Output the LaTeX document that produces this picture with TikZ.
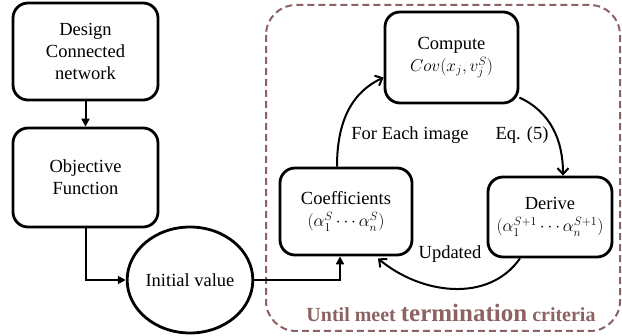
\documentclass[tikz,border=0pt]{standalone}
\usepackage{fontspec}
\setmainfont{Liberation Serif}
\newfontfamily\tms{Liberation Serif}
\usetikzlibrary{arrows.meta,shapes.geometric}
\definecolor{brn}{RGB}{140,98,98}
\begin{document}
\begin{tikzpicture}[x=1pt,y=-1pt,
  box/.style={draw,line width=2.8pt,rounded corners=15pt,align=center,font=\tms\fontsize{18.5}{22}\selectfont},
  lbl/.style={font=\tms\fontsize{18.5}{22}\selectfont},
  sarr/.style={line width=2pt,-{Triangle[length=8pt,width=8pt]}},
  carr/.style={line width=2pt,-{Straight Barb[length=6pt,width=11pt,line width=2pt]}}]
\useasboundingbox (0,0) rectangle (622,336);
\draw[brn,line width=2pt,dash pattern=on 7pt off 4pt,rounded corners=30pt] (266,5) rectangle (620,331);
\node[box,minimum width=145pt,minimum height=97pt] (b1) at (85.5,51.5) {Design\\Connected\\network};
\node[box,minimum width=145pt,minimum height=99pt] (b2) at (85.5,177.5) {Objective\\Function};
\node[draw,ellipse,line width=2.8pt,minimum width=124pt,minimum height=106pt,inner sep=0pt,lbl] (iv) at (190,280) {Initial value};
\node[box,minimum width=133pt,minimum height=91pt] (comp) at (451.5,57.5) {Compute\\$Cov(x_j,v_j^S)$};
\node[box,minimum width=132pt,minimum height=87pt] (coef) at (346,211.5) {Coefficients\\$(\alpha_1^S\cdots\alpha_n^S)$};
\node[box,minimum width=124pt,minimum height=80pt,inner sep=2pt] (der) at (550,217) {Derive\\$(\alpha_1^{S+1}\cdots\alpha_n^{S+1})$};
\draw[sarr] (b1) -- (b2);
\draw[sarr] (b2.south) |- (iv.west);
\draw[sarr] (iv.east) -| ([xshift=-6pt]coef.south);
\draw[carr] ([xshift=-9pt]coef.north) to[out=90,in=205] ([yshift=-20pt]comp.west);
\draw[carr] ([yshift=-40pt]comp.east) to[out=-25,in=90] ([xshift=13pt]der.north);
\draw[carr] ([xshift=-30pt]der.south) to[out=-125,in=-40] ([xshift=32pt,yshift=-2pt]coef.south);
\node[lbl] (fe) at (410,135) {For Each image};
\node[lbl] (eq) at (522,135) {Eq. (5)};
\node[lbl] (up) at (450,254) {Updated};
\node[text=brn,font=\tms\bfseries\fontsize{20}{24}\selectfont] (until) at (451,313) {Until meet {\fontsize{25}{28}\selectfont termination} criteria};
\end{tikzpicture}
\end{document}
